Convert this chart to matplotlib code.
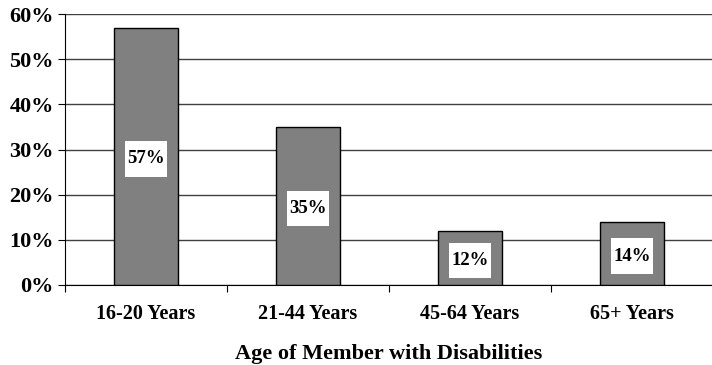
import matplotlib.pyplot as plt
from matplotlib.patches import Rectangle

# age groups and share of households
groups = ['16-20 Years', '21-44 Years', '45-64 Years', '65+ Years']
shares = [57, 35, 12, 14]

plt.rcParams['font.family'] = ['Liberation Serif', 'DejaVu Serif']
plt.rcParams['font.weight'] = 'bold'

fig = plt.figure(figsize=(7.12, 3.65), dpi=100)
ax = fig.add_axes([65 / 712, 1 - 285 / 365, 648 / 712, 271 / 365])

x = range(len(groups))
bars = ax.bar(x, shares, width=0.4, color='#808080', edgecolor='black', linewidth=1, zorder=3)

# white label boxes inside each bar
box_w, box_h = 0.265, 7.8
for xi, v in zip(x, shares):
    yc = v / 2 - 0.6
    ax.add_patch(Rectangle((xi - box_w / 2, yc - box_h / 2), box_w, box_h,
                           facecolor='white', edgecolor='none', zorder=4))
    ax.text(xi, yc, f'{v}%', ha='center', va='center', fontsize=13.5, fontweight='bold', zorder=5)

ax.set_xlim(-0.5, len(groups) - 0.5)
ax.set_ylim(0, 60)
ax.set_yticks(range(0, 61, 10))
ax.set_yticklabels([f'{t}%' for t in range(0, 61, 10)], fontsize=16, fontweight='bold')
ax.yaxis.grid(True, color='#404040', linewidth=1, zorder=0)

ax.set_xticks([i - 0.5 for i in range(len(groups) + 1)])
ax.set_xticklabels([])
ax.set_xticks(list(x), minor=True)
ax.set_xticklabels(groups, minor=True, fontsize=14.5, fontweight='bold')
ax.tick_params(axis='x', which='minor', length=0, pad=14)
ax.tick_params(axis='x', which='major', length=5, direction='out')
ax.tick_params(axis='y', length=5, direction='out', pad=3)

ax.spines['top'].set_visible(False)
ax.spines['right'].set_visible(False)
ax.set_xlabel('Age of Member with Disabilities', fontsize=16, fontweight='bold', labelpad=14)

fig.savefig('out.png', dpi=100)
